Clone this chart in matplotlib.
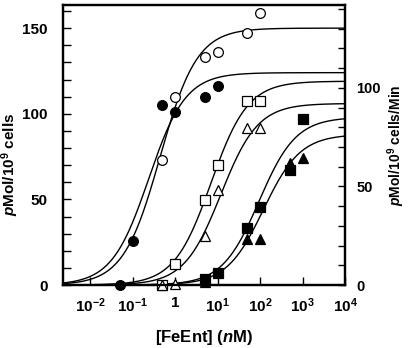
import numpy as np
import matplotlib
matplotlib.use("Agg")
import matplotlib.pyplot as plt
from matplotlib.ticker import MultipleLocator, LogLocator, NullFormatter

FONT = "Liberation Sans"
plt.rcParams["font.family"] = [FONT, "DejaVu Sans"]
plt.rcParams["font.weight"] = "bold"
plt.rcParams["axes.labelweight"] = "bold"
plt.rcParams["mathtext.fontset"] = "custom"
plt.rcParams["mathtext.rm"] = FONT + ":bold"
plt.rcParams["mathtext.bf"] = FONT + ":bold"
plt.rcParams["mathtext.it"] = FONT + ":bold:italic"
plt.rcParams["mathtext.default"] = "rm"

# measured points, [FeEnt] in nM, values on left axis scale
open_circ_x = [0.5, 1, 5, 10, 50, 100]
open_circ_y = [73, 109.5, 133, 136, 147, 159]
fill_circ_x = [0.05, 0.1, 0.5, 1, 5, 10]
fill_circ_y = [0, 25.6, 105, 101, 110, 116]
open_sq_x = [0.5, 1, 5, 10, 50, 100]
open_sq_y = [0, 12, 49.4, 69.8, 107.2, 107.2]
open_tri_x = [0.5, 1, 5, 10, 50, 100]
open_tri_y = [0, 0.5, 28.7, 55.2, 91.7, 91.7]
fill_sq_x = [5, 10, 50, 100, 500, 1000]
fill_sq_y = [3.5, 7.2, 33.5, 45.5, 67.3, 97]
fill_tri_x = [5, 50, 100, 500, 1000]
fill_tri_y = [2, 27, 27, 71, 74.2]

# fitted saturation curves: (Bmax, Kd in nM)
FITS = [(150, 0.447), (124, 0.239), (119, 7.0), (106, 12.0), (98, 95.0), (88, 120.0)]

XMIN, XMAX = 2.3e-3, 1e4

fig = plt.figure(figsize=(4.09, 3.48), dpi=100)
ax = fig.add_axes([0.154, 0.181, 0.6895, 0.8046])

xs = np.logspace(np.log10(XMIN), np.log10(XMAX), 400)
for bmax, kd in FITS:
    ax.plot(xs, bmax * xs / (kd + xs), color="black", lw=1.0, zorder=2)

kw = dict(ls="none", mec="black", mew=0.9, clip_on=False, zorder=3)
ax.plot(open_circ_x, open_circ_y, marker="o", ms=7, mfc="white", **kw)
ax.plot(fill_circ_x, fill_circ_y, marker="o", ms=7, mfc="black", **kw)
ax.plot(open_sq_x, open_sq_y, marker="s", ms=6.5, mfc="white", **kw)
ax.plot(open_tri_x, open_tri_y, marker="^", ms=7, mfc="white", **kw)
ax.plot(fill_sq_x, fill_sq_y, marker="s", ms=6.5, mfc="black", **kw)
ax.plot(fill_tri_x, fill_tri_y, marker="^", ms=7, mfc="black", **kw)

ax.set_xscale("log")
ax.set_xlim(XMIN, XMAX)
ax.set_ylim(0, 163.5)
ax.set_xticks([1e-2, 1e-1, 1, 10, 100, 1000, 1e4])
ax.set_xticklabels([r"10$^{-2}$", r"10$^{-1}$", "1", r"10$^{1}$",
                    r"10$^{2}$", r"10$^{3}$", r"10$^{4}$"])
ax.xaxis.set_minor_locator(LogLocator(base=10, subs=np.arange(2, 10)))
ax.xaxis.set_minor_formatter(NullFormatter())
ax.set_yticks([0, 50, 100, 150])
ax.yaxis.set_minor_locator(MultipleLocator(10))
ax.tick_params(which="both", direction="in", top=False, right=False,
               labelsize=11, width=1.0)
ax.tick_params(axis="y", which="major", length=6, pad=11)
ax.tick_params(axis="y", which="minor", length=6)
ax.tick_params(axis="x", which="major", length=6, pad=8)
ax.tick_params(axis="x", which="minor", length=4)
for s in ax.spines.values():
    s.set_linewidth(1.6)

ax.set_xlabel("[FeEnt] ($\\mathit{n}$M)", fontsize=12)
ax.xaxis.set_label_coords(0.5, -0.155)
ax.set_ylabel("$\\mathit{p}$Mol/10$^{9}$ cells", fontsize=11)
ax.yaxis.set_label_coords(-0.15, 0.43)

ax2 = ax.twinx()
ax2.set_ylim(0, 142)
ax2.set_yticks([0, 50, 100])
ax2.yaxis.set_minor_locator(MultipleLocator(10))
ax2.tick_params(which="both", direction="in", length=5, width=1.0,
                labelsize=10.5, pad=8)
for s in ax2.spines.values():
    s.set_linewidth(1.6)
ax2.set_ylabel("$\\mathit{p}$Mol/10$^{9}$ cells/Min", fontsize=10)
ax2.yaxis.set_label_coords(1.145, 0.5)

fig.savefig("out.png", dpi=100)
